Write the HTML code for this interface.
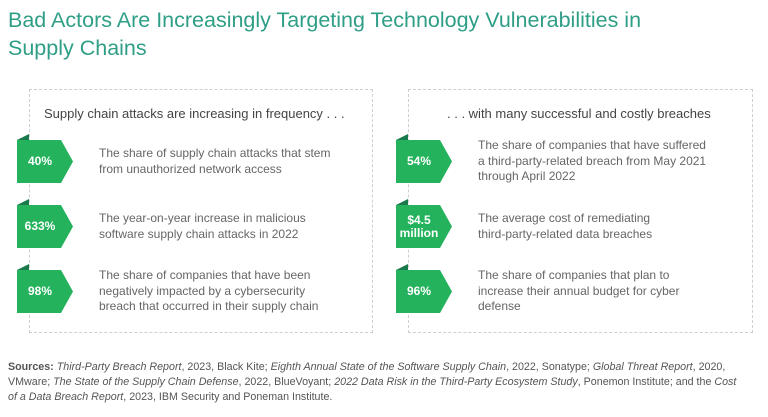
<!DOCTYPE html>
<html><head><meta charset="utf-8"><style>
body{margin:0;width:768px;height:417px;background:#fff;font-family:"Liberation Sans",sans-serif;position:relative;overflow:hidden}
h1{position:absolute;left:8px;top:6px;margin:0;font-size:21.5px;font-weight:normal;color:#2f9e86;line-height:28px;width:690px}
.panel{position:absolute;top:89px;height:242px;border:1px dashed #cfcfcf}
.phead{position:absolute;top:16px;font-size:13px;color:#444}
.badge{position:absolute;width:56px;height:43px}
.badge .lab{position:absolute;left:0;width:46px;top:0;height:43px;display:flex;align-items:center;justify-content:center;text-align:center;color:#fff;font-weight:bold;font-size:12px;line-height:13px}
.desc{position:absolute;font-size:12px;color:#666;line-height:15.5px;width:260px}
.src{position:absolute;left:8px;top:360px;width:735px;font-size:10.7px;line-height:15px;color:#555}
</style></head><body>
<h1>Bad Actors Are Increasingly Targeting Technology Vulnerabilities in Supply Chains</h1>
<div class="panel" style="left:29px;width:342px">
<div class="phead" style="left:14px">Supply chain attacks are increasing in frequency . . .</div></div>
<div class="panel" style="left:408px;width:343px">
<div class="phead" style="left:38px">. . . with many successful and costly breaches</div></div>
<div id="items"></div>
<div class="src"><b>Sources:</b> <i>Third-Party Breach Report</i>, 2023, Black Kite; <i>Eighth Annual State of the Software Supply Chain</i>, 2022, Sonatype; <i>Global Threat Report</i>, 2020, VMware; <i>The State of the Supply Chain Defense</i>, 2022, BlueVoyant; <i>2022 Data Risk in the Third-Party Ecosystem Study</i>, Ponemon Institute; and the <i>Cost of a Data Breach Report</i>, 2023, IBM Security and Poneman Institute.</div>
<script>
const values=["40%","633%","98%","54%","$4.5<br>million","96%"];
const descs=["The share of supply chain attacks that stem<br>from unauthorized network access","The year-on-year increase in malicious<br>software supply chain attacks in 2022","The share of companies that have been<br>negatively impacted by a cybersecurity<br>breach that occurred in their supply chain","The share of companies that have suffered<br>a third-party-related breach from May 2021<br>through April 2022","The average cost of remediating<br>third-party-related data breaches","The share of companies that plan to<br>increase their annual budget for cyber<br>defense"];
const box=document.getElementById('items');
values.forEach((v,i)=>{
 const col=Math.floor(i/3),row=i%3;
 const bx=col?396:17, by=140+row*65;
 const b=document.createElement('div');b.className='badge';b.style.left=bx+'px';b.style.top=by+'px';
 
 
 b.innerHTML='<svg width="60" height="49" style="position:absolute;left:0;top:-6px"><polygon points="0,6 12,0 12,6" fill="#1a7a4c"/><polygon points="0,6 44,6 56,27.5 44,49 0,49" fill="#24b35c"/></svg><div class="lab">'+v+'</div>';
 box.appendChild(b);
 const d=document.createElement('div');d.className='desc';
 
 
 const lines=descs[i].split('<br>').length;
 d.style.left=(col?478:99)+'px';d.style.top=(by+21.5-lines*7.75)+'px';
 d.innerHTML=descs[i];box.appendChild(d);
});
</script>
</body></html>
